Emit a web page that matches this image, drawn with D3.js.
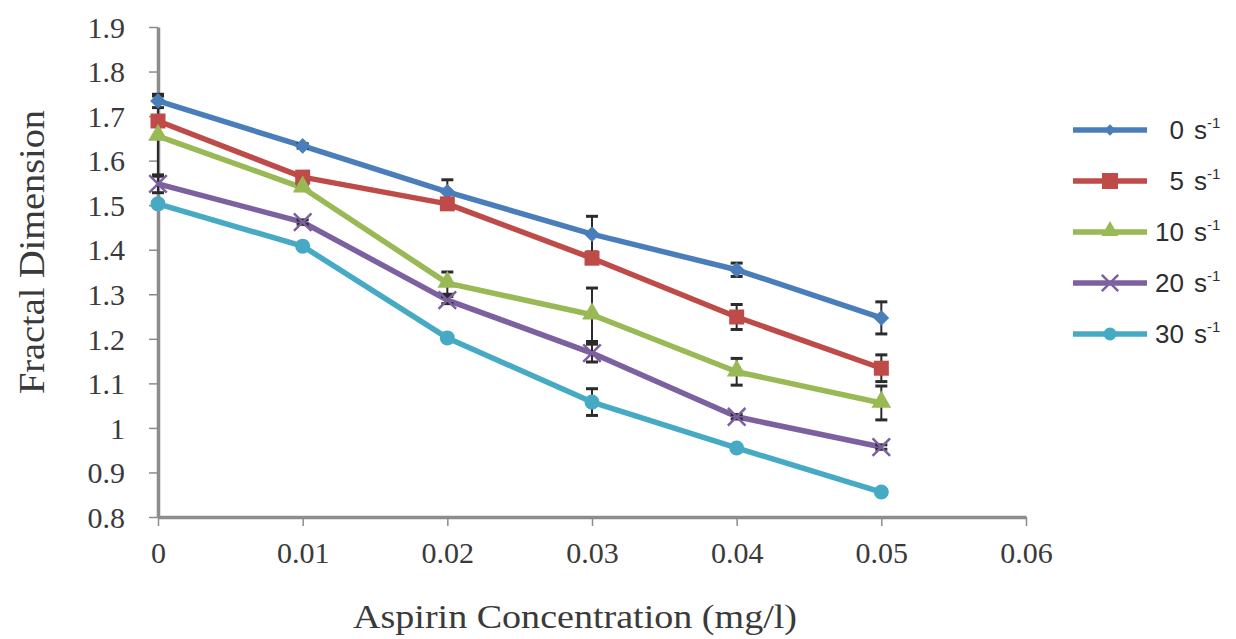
<!DOCTYPE html>
<html>
<head>
<meta charset="utf-8">
<script src="https://cdn.jsdelivr.net/npm/d3@7"></script>
<style>
  body { margin: 0; background: #fff; }
  svg { display: block; }
</style>
</head>
<body>
<div id="chart-container"></div>
<script>
// fractal dimension vs aspirin concentration, one line per shear rate
var concentrations = [0, 0.01, 0.02, 0.03, 0.04, 0.05];

var series0 = [1.734, 1.633, 1.530, 1.435, 1.355, 1.247];
var series5 = [1.689, 1.563, 1.503, 1.381, 1.249, 1.134];
var series10 = [1.655, 1.539, 1.325, 1.254, 1.126, 1.056];
var series20 = [1.548, 1.462, 1.287, 1.168, 1.025, 0.957];
var series30 = [1.503, 1.408, 1.202, 1.058, 0.955, 0.856];

var err0 = [0.015, 0.005, 0.027, 0.04, 0.015, 0.036];
var err5 = [0.01, 0.005, 0.005, 0.012, 0.028, 0.03];
var err10 = [0.09, 0.005, 0.025, 0.06, 0.03, 0.038];
var err20 = [0.02, 0.005, 0.008, 0.02, 0.005, 0.005];
var err30 = [0.005, 0.005, 0.005, 0.03, 0.005, 0.005];

var seriesNames = ["0", "5", "10", "20", "30"];
var xTickValues = [0, 0.01, 0.02, 0.03, 0.04, 0.05, 0.06];
var xTickLabels = ["0", "0.01", "0.02", "0.03", "0.04", "0.05", "0.06"];
var yTickValues = [0.8, 0.9, 1, 1.1, 1.2, 1.3, 1.4, 1.5, 1.6, 1.7, 1.8, 1.9];
var yTickLabels = ["0.8", "0.9", "1", "1.1", "1.2", "1.3", "1.4", "1.5", "1.6", "1.7", "1.8", "1.9"];

var colors = ["#4a7ebb", "#be4b48", "#98b954", "#7d60a0", "#46aac5"];
var markers = ["diamond", "square", "triangle", "x", "circle"];

var allSeries = [series0, series5, series10, series20, series30];
var allErr = [err0, err5, err10, err20, err30];

var width = 1236, height = 639;

var x = d3.scaleLinear().domain([0, 0.06]).range([158, 1026]);
var y = d3.scaleLinear().domain([0.8, 1.9]).range([517, 27]);

var svg = d3.select("#chart-container")
    .append("svg")
    .attr("width", width)
    .attr("height", height);

var serif = "'Liberation Serif', 'Times New Roman', serif";

// axes
var xAxis = d3.axisBottom(x)
    .tickValues(xTickValues)
    .tickSize(9)
    .tickSizeOuter(0)
    .tickPadding(14)
    .tickFormat(function(d, i) { return xTickLabels[i]; });

var yAxis = d3.axisLeft(y)
    .tickValues(yTickValues)
    .tickSize(9)
    .tickSizeOuter(0)
    .tickPadding(24)
    .tickFormat(function(d, i) { return yTickLabels[i]; });

var gx = svg.append("g")
    .attr("transform", "translate(0," + y(0.8) + ")")
    .call(xAxis);

var gy = svg.append("g")
    .attr("transform", "translate(" + x(0) + ",0)")
    .call(yAxis);

[gx, gy].forEach(function(g) {
  g.select(".domain").attr("stroke", "#8c8c8c").attr("stroke-width", 3.5);
  g.selectAll(".tick line").attr("stroke", "#8c8c8c").attr("stroke-width", 1.5);
  g.selectAll(".tick text")
    .attr("fill", "#3a3a3a")
    .style("font-family", serif)
    .style("font-size", "30px");
});
gx.selectAll(".tick text").attr("dy", "0.75em");
gy.selectAll(".tick text").attr("dy", "0.34em");

// axis titles
svg.append("text")
    .attr("x", 575)
    .attr("y", 628)
    .attr("text-anchor", "middle")
    .attr("textLength", 444)
    .attr("lengthAdjust", "spacingAndGlyphs")
    .attr("fill", "#3a3a3a")
    .style("font-family", serif)
    .style("font-size", "34px")
    .text("Aspirin Concentration (mg/l)");

svg.append("text")
    .attr("transform", "translate(44,252) rotate(-90)")
    .attr("text-anchor", "middle")
    .attr("textLength", 284)
    .attr("lengthAdjust", "spacingAndGlyphs")
    .attr("fill", "#3a3a3a")
    .style("font-family", serif)
    .style("font-size", "35px")
    .text("Fractal Dimension");

// draws one marker shape at (cx, cy)
function drawMarker(g, type, cx, cy, color, s) {
  if (type == "diamond") {
    g.append("path")
      .attr("d", d3.symbol().type(d3.symbolSquare).size(s * s * 0.55)())
      .attr("transform", "translate(" + cx + "," + cy + ") rotate(45)")
      .attr("fill", color);
  } else if (type == "square") {
    g.append("path")
      .attr("d", d3.symbol().type(d3.symbolSquare).size(s * s)())
      .attr("transform", "translate(" + cx + "," + cy + ")")
      .attr("fill", color);
  } else if (type == "triangle") {
    g.append("path")
      .attr("d", d3.symbol().type(d3.symbolTriangle).size(s * s * 0.75)())
      .attr("transform", "translate(" + cx + "," + (cy - 1) + ")")
      .attr("fill", color);
  } else if (type == "circle") {
    g.append("circle")
      .attr("cx", cx).attr("cy", cy)
      .attr("r", s / 2)
      .attr("fill", color);
  } else if (type == "x") {
    g.append("path")
      .attr("d", d3.symbol().type(d3.symbolTimes).size(s * s * 0.9)())
      .attr("transform", "translate(" + cx + "," + cy + ")")
      .attr("fill", "none")
      .attr("stroke", color)
      .attr("stroke-width", 2.5);
  }
}

var line = d3.line()
    .x(function(d, i) { return x(concentrations[i]); })
    .y(function(d) { return y(d); });

var plot = svg.append("g");

allSeries.forEach(function(vals, k) {
  plot.append("path")
    .datum(vals)
    .attr("d", line)
    .attr("fill", "none")
    .attr("stroke", colors[k])
    .attr("stroke-width", 5.5)
    .attr("stroke-linejoin", "round");
});

// error bars, under the markers
var errG = svg.append("g").attr("stroke", "#2b2b2b").attr("stroke-width", 2);
allSeries.forEach(function(vals, k) {
  vals.forEach(function(v, i) {
    var e = allErr[k][i];
    var cx = x(concentrations[i]);
    errG.append("line")
      .attr("x1", cx).attr("x2", cx)
      .attr("y1", y(v + e)).attr("y2", y(v - e));
    [v + e, v - e].forEach(function(c) {
      errG.append("line")
        .attr("x1", cx - 6).attr("x2", cx + 6)
        .attr("y1", y(c)).attr("y2", y(c))
        .attr("stroke-width", 3);
    });
  });
});

var markG = svg.append("g");
allSeries.forEach(function(vals, k) {
  vals.forEach(function(v, i) {
    drawMarker(markG, markers[k], x(concentrations[i]), y(v), colors[k], 15);
  });
});

// legend
var legendY = [130, 181, 232, 283, 334];
var legend = svg.append("g");
seriesNames.forEach(function(name, k) {
  var ly = legendY[k];
  legend.append("line")
    .attr("x1", 1073).attr("x2", 1147)
    .attr("y1", ly).attr("y2", ly)
    .attr("stroke", colors[k])
    .attr("stroke-width", 5.5);
  var sz = [11, 16, 13, 14, 13][k];
  drawMarker(legend, markers[k], 1110, ly, colors[k], sz);
  legend.append("text")
    .attr("x", 1184)
    .attr("y", ly + 9)
    .attr("text-anchor", "end")
    .attr("fill", "#2e2e2e")
    .style("font-family", "'Liberation Sans', Arial, sans-serif")
    .style("font-size", "26px")
    .text(name);
  var t = legend.append("text")
    .attr("x", 1194)
    .attr("y", ly + 9)
    .attr("fill", "#2e2e2e")
    .style("font-family", "'Liberation Sans', Arial, sans-serif")
    .style("font-size", "26px")
    .text("s");
  t.append("tspan")
    .attr("dy", -11)
    .style("font-size", "15px")
    .text("-1");
});
</script>
</body>
</html>
